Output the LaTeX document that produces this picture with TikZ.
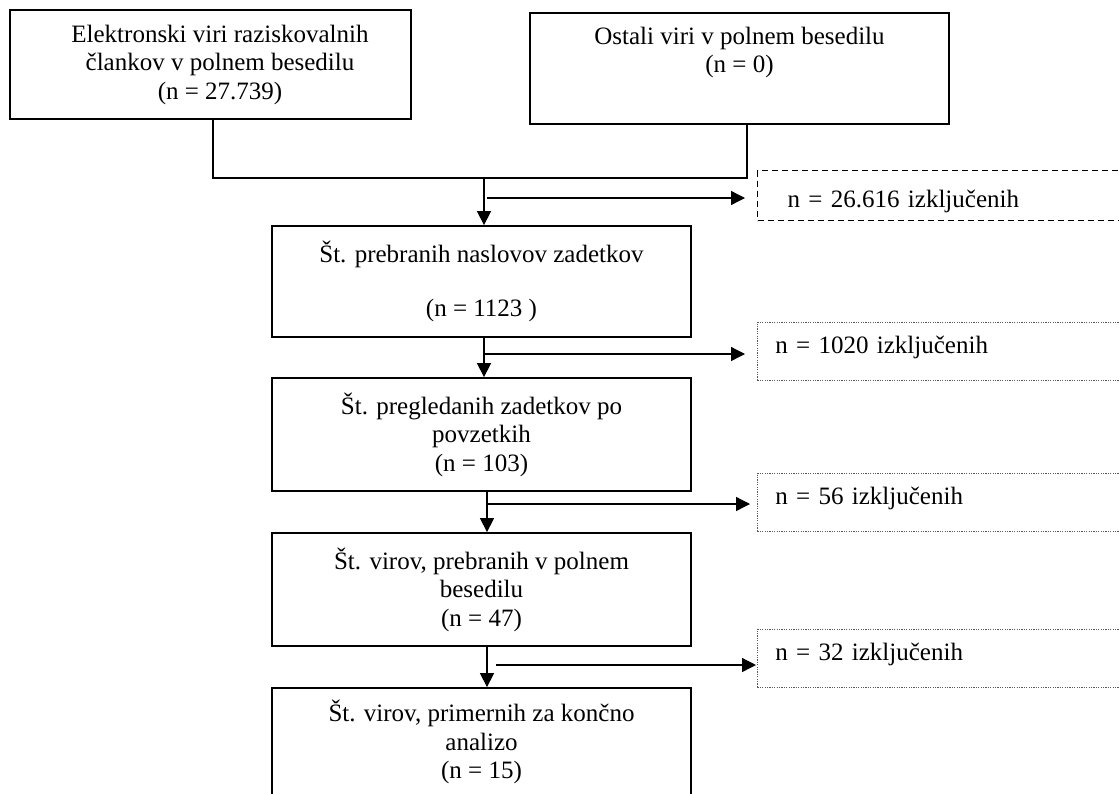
\documentclass[tikz,border=0pt]{standalone}
\usepackage{fontspec}
\setmainfont{Liberation Serif}
\usetikzlibrary{arrows.meta}
\begin{document}
\begin{tikzpicture}[x=1pt,y=-1pt,
  every node/.style={font=\fontsize{25}{28.5}\selectfont},
  topbox/.style={draw, line width=1.1pt, align=center, inner sep=0pt},
  mainbox/.style={draw, line width=1.8pt, align=center, inner sep=0pt, minimum width=419pt},
  exbox/.style={anchor=north west, inner xsep=18pt, inner ysep=0pt, text width=340pt, align=left,
    text height=31.5pt, text depth=26.5pt, draw=black!65, line width=0.7pt, dash pattern=on 1.2pt off 1.2pt},
  exdashed/.style={anchor=north west, inner xsep=30pt, inner ysep=0pt, text width=330pt, align=left,
    text height=36.5pt, text depth=13.5pt, draw, line width=1.3pt, dash pattern=on 6pt off 4pt},
  conn/.style={line width=1.3pt},
  arr/.style={line width=1.3pt, -{Triangle[length=14pt,width=14pt]}},
]
\useasboundingbox (0,0) rectangle (1119,793);
\fill[white] (0,0) rectangle (1119,793);
\clip (0,0) rectangle (1119,793);

% top boxes
\node[topbox, minimum width=401pt, minimum height=109pt] (b1) at (210.5,64.5)
  {\hspace*{19pt}Elektronski viri raziskovalnih\\\hspace*{19pt}člankov v polnem besedilu\\\hspace*{19pt}(n = 27.739)};
\node[topbox, minimum width=419pt, minimum height=111pt] (b2) at (739.5,68.5)
  {Ostali viri v polnem besedilu\\(n = 0)\\\strut};

% main boxes
\node[mainbox, minimum height=111pt] (b3) at (481.5,281.5)
  {Št. prebranih naslovov zadetkov\\[25.5pt](n = 1123 )};
\node[mainbox, minimum height=113pt] (b4) at (481.5,434.5)
  {Št. pregledanih zadetkov po\\povzetkih\\(n = 103)};
\node[mainbox, minimum height=113pt] (b5) at (481.5,589.5)
  {Št. virov, prebranih v polnem\\besedilu\\(n = 47)};
\node[mainbox, minimum height=108pt] (b6) at (481.5,742)
  {Št. virov, primernih za končno\\analizo\\(n = 15)};

% exclusion boxes
\node[exdashed] (e1) at (757,170) {n = 26.616 izključenih};
\node[exbox] (e2) at (757,322) {n = 1020 izključenih};
\node[exbox] (e3) at (757,473) {n = 56 izključenih};
\node[exbox] (e4) at (757,629) {n = 32 izključenih};

% connectors
\coordinate (m) at (484,178);
\draw[conn] ([xshift=2.5pt]b1.south) |- (m) -| ([xshift=7.5pt]b2.south);
\draw[arr] (m) -- (m |- b3.north);
\coordinate (h1) at (487,198);
\draw[arr, shorten >=12pt] (h1) -- (h1 -| e1.west);

\draw[arr] ([xshift=2.5pt]b3.south) -- ([xshift=2.5pt]b4.north);
\coordinate (h2) at (484,354);
\draw[arr, shorten >=12pt] (h2) -- (h2 -| e2.west);

\draw[arr] ([xshift=5.5pt]b4.south) -- ([xshift=5.5pt]b5.north);
\coordinate (h3) at (487,504);
\draw[arr, shorten >=7pt] (h3) -- (h3 -| e3.west);

\draw[arr] ([xshift=5.5pt]b5.south) -- ([xshift=5.5pt]b6.north);
\coordinate (h4) at (496,665);
\draw[arr, shorten >=1pt] (h4) -- (h4 -| e4.west);
\end{tikzpicture}
\end{document}
